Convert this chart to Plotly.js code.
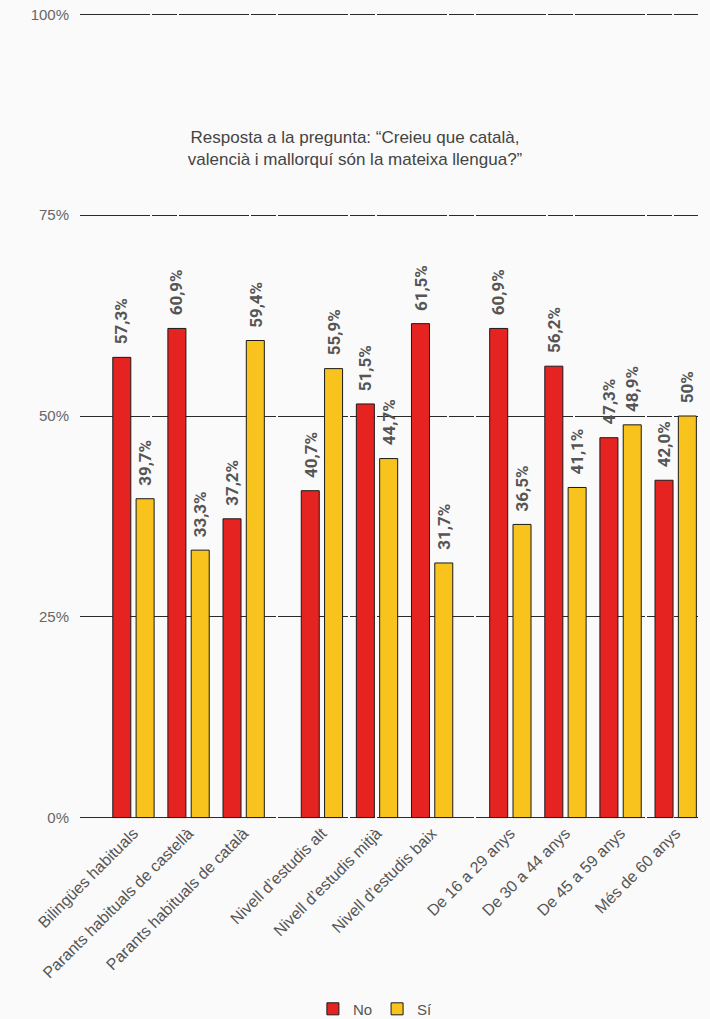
<!DOCTYPE html>
<html>
<head>
<meta charset="utf-8">
<script src="https://cdn.plot.ly/plotly-3.0.1.min.js"></script>
<style>
html,body{margin:0;padding:0;background:#fafafa;}
#chart{width:710px;height:1019px;}
</style>
</head>
<body>
<div id="chart"></div>
<script>
// ---- data ----
var categories = [
  "Bilingües habituals",
  "Parants habituals de castellà",
  "Parants habituals de català",
  "Nivell d\u2019estudis alt",
  "Nivell d\u2019estudis mitjà",
  "Nivell d\u2019estudis baix",
  "De 16 a 29 anys",
  "De 30 a 44 anys",
  "De 45 a 59 anys",
  "Més de 60 anys"
];
var groupSizes = [3, 3, 4];
var noValues = [57.3, 60.9, 37.2, 40.7, 51.5, 61.5, 60.9, 56.2, 47.3, 42.0];
var siValues = [39.7, 33.3, 59.4, 55.9, 44.7, 31.7, 36.5, 41.1, 48.9, 50];
var noLabels = ["57,3%", "60,9%", "37,2%", "40,7%", "51,5%", "61,5%", "60,9%", "56,2%", "47,3%", "42,0%"];
var siLabels = ["39,7%", "33,3%", "59,4%", "55,9%", "44,7%", "31,7%", "36,5%", "41,1%", "48,9%", "50%"];
var yTickVals = [0, 25, 50, 75, 100];
var yTickText = ["0%", "25%", "50%", "75%", "100%"];
var seriesNames = ["No", "Sí"];
var titleText = "Resposta a la pregunta: \u201cCreieu que català,<br>valencià i mallorquí són la mateixa llengua?\u201d";

// ---- layout helpers ----
var groupGap = 0.42;
var positions = [];
var p = 0;
groupSizes.forEach(function (n) {
  for (var k = 0; k < n; k++) { positions.push(p); p += 1; }
  p += groupGap;
});

var bargap = 0.154, bargroupgap = 0.227;
var half = (1 - bargap) / 4;

var red = "#e52421", yellow = "#f8c31d";
var grey = "#555";
var lightFont = "'Liberation Sans', Arial, sans-serif";
var boldFont = "Roboto, 'DejaVu Sans', sans-serif";

var traces = [
  {type: "bar", name: seriesNames[0], x: positions, y: noValues,
   marker: {color: red, line: {color: "#1a1a1a", width: 1}}, hoverinfo: "skip"},
  {type: "bar", name: seriesNames[1], x: positions, y: siValues,
   marker: {color: yellow, line: {color: "#1a1a1a", width: 1}}, hoverinfo: "skip"}
];

var annotations = [];
positions.forEach(function (xp, i) {
  annotations.push({x: xp - half, y: noValues[i], xref: "x", yref: "y", text: noLabels[i],
    textangle: -90, showarrow: false, xanchor: "center", yanchor: "bottom", yshift: 11,
    font: {family: boldFont, size: 17, color: grey, weight: "bold"}});
  annotations.push({x: xp + half, y: siValues[i], xref: "x", yref: "y", text: siLabels[i],
    textangle: -90, showarrow: false, xanchor: "center", yanchor: "bottom", yshift: 11,
    font: {family: boldFont, size: 17, color: grey, weight: "bold"}});
});

var layout = {
  width: 710, height: 1019,
  paper_bgcolor: "#fafafa", plot_bgcolor: "rgba(0,0,0,0)",
  margin: {l: 80, r: 12, t: 11.6, b: 198.6, autoexpand: false},
  font: {family: lightFont, color: "#666", size: 15},
  title: {text: titleText, x: 0.5, xref: "container", y: 1 - 143 / 1019, yref: "container",
    xanchor: "center", yanchor: "middle",
    font: {family: lightFont, size: 17, color: "#444"}},
  barmode: "group", bargap: bargap, bargroupgap: bargroupgap,
  showlegend: true,
  legend: {orientation: "h", x: 0.478, xanchor: "center", xref: "paper",
    y: -0.234, yanchor: "middle", font: {size: 15, color: "#555", family: lightFont},
    bgcolor: "rgba(0,0,0,0)", itemwidth: 30, tracegroupgap: 0},
  xaxis: {range: [-0.97, 10.245], tickmode: "array", tickvals: positions, ticktext: categories,
    tickangle: -45, showgrid: false, zeroline: false, showline: false, ticks: "",
    automargin: false, tickfont: {size: 16, color: "#555", family: lightFont}, fixedrange: true},
  yaxis: {range: [-0.3, 100.3], tickmode: "array", tickvals: yTickVals, ticktext: yTickText,
    showgrid: true, gridcolor: "#2a2a2a", gridwidth: 1, griddash: "70px,2px,25px,2px",
    zeroline: false, showline: false, ticks: "", ticklabelstandoff: 10, automargin: false,
    tickfont: {size: 15, color: "#666", family: lightFont}, fixedrange: true},
  annotations: annotations
};

Plotly.newPlot("chart", traces, layout, {displayModeBar: false, staticPlot: true});
</script>
</body>
</html>
